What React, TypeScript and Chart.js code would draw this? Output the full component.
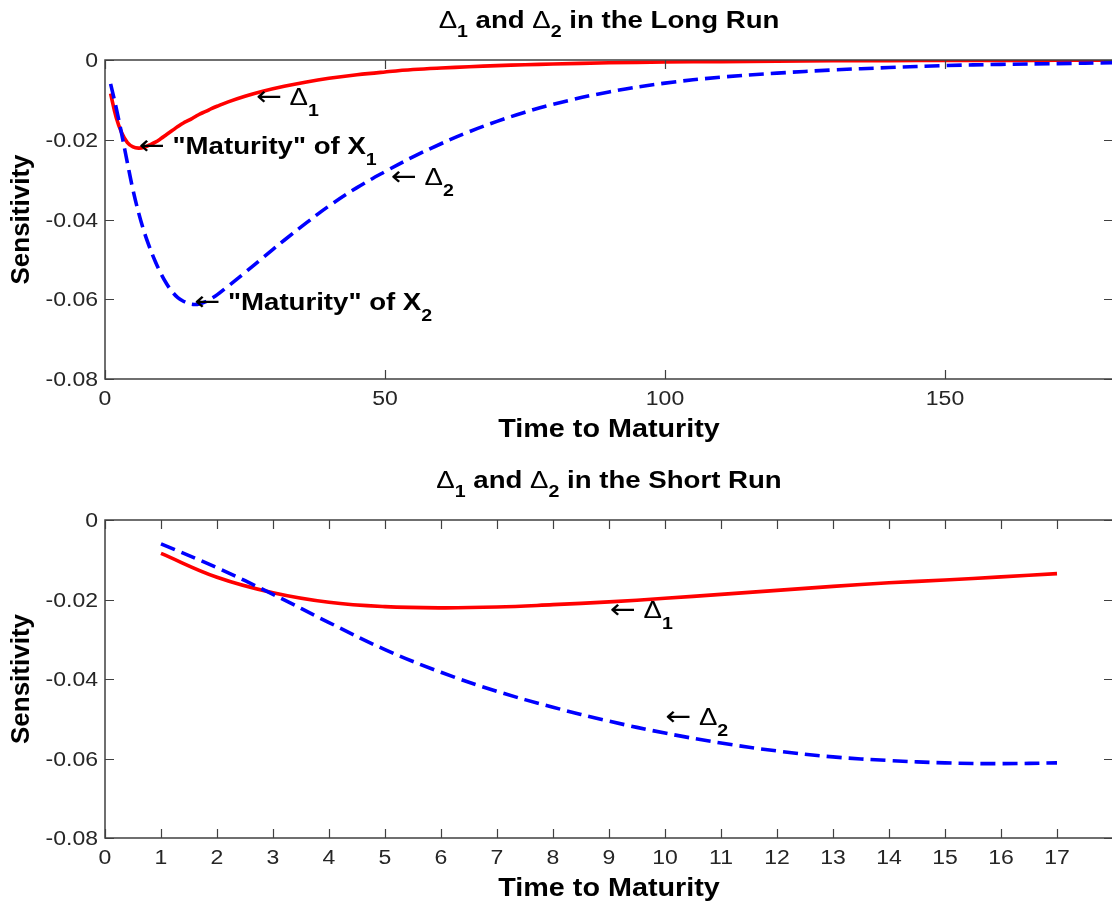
import React, { useEffect, useRef } from 'react';
import { Chart, registerables } from 'chart.js';

Chart.register(...registerables);

// ---------------- data ----------------
const longTimes = [1, 2, 3, 4, 5, 6, 7, 8, 9, 10, 11, 12, 13, 14, 15, 16, 17, 18, 19, 20, 22, 25, 28, 32, 36, 40, 45, 50, 55, 60, 65, 70, 75, 80, 90, 100, 110, 120, 130, 140, 150, 160, 170, 180];
const longDelta1 = [-0.0084, -0.0144, -0.0183, -0.0207, -0.0218, -0.0221, -0.0219, -0.0213, -0.0206, -0.0197, -0.0187, -0.0177, -0.0167, -0.0158, -0.0151, -0.0143, -0.0135, -0.0129, -0.0122, -0.0116, -0.0105, -0.0091, -0.0079, -0.0066, -0.0055, -0.0046, -0.0037, -0.0030, -0.0024, -0.0020, -0.0017, -0.0014, -0.0012, -0.0010, -0.0007, -0.0005, -0.0004, -0.0003, -0.0002, -0.00015, -0.0001, -0.0001, -0.00007, -0.00005];
const longDelta2 = [-0.0060, -0.0120, -0.0187, -0.0258, -0.0326, -0.0383, -0.0431, -0.0471, -0.0506, -0.0536, -0.0561, -0.0581, -0.0596, -0.0605, -0.0611, -0.0613, -0.0611, -0.0606, -0.0598, -0.0589, -0.0567, -0.0533, -0.0498, -0.0452, -0.0408, -0.0366, -0.0320, -0.0280, -0.0243, -0.0210, -0.0180, -0.0154, -0.0131, -0.0111, -0.0080, -0.0058, -0.0043, -0.0033, -0.0025, -0.0019, -0.0014, -0.0011, -0.0009, -0.0007];

const shortTimes = [1, 2, 3, 4, 5, 6, 7, 8, 9, 10, 11, 12, 13, 14, 15, 16, 17];
const shortDelta1 = [-0.0084, -0.0144, -0.0183, -0.0207, -0.0218, -0.0221, -0.0219, -0.0213, -0.0206, -0.0197, -0.0187, -0.0177, -0.0167, -0.0158, -0.0151, -0.0143, -0.0135];
const shortDelta2 = [-0.0060, -0.0120, -0.0187, -0.0258, -0.0326, -0.0383, -0.0431, -0.0471, -0.0506, -0.0536, -0.0561, -0.0581, -0.0596, -0.0605, -0.0611, -0.0613, -0.0611];

const longXTicks = [0, 50, 100, 150];
const shortXTicks = [0, 1, 2, 3, 4, 5, 6, 7, 8, 9, 10, 11, 12, 13, 14, 15, 16, 17];
const yTicks = [0, -0.02, -0.04, -0.06, -0.08];
const yTickLabels = ['0', '-0.02', '-0.04', '-0.06', '-0.08'];

const longRange = [0, 180];
const shortRange = [0, 18];
const yRange = [-0.08, 0];

const xAxisTitle = 'Time to Maturity';
const yAxisTitle = 'Sensitivity';

// ---------------- text helpers ----------------
type Seg = { t: string; size: number; bold?: boolean; dy?: number; family?: string };
const FAMILY = '"Liberation Sans", Arial, Helvetica, sans-serif';
const ARROW_FAMILY = '"DejaVu Sans", sans-serif';
const SX = 1.15;

const big = (t: string, bold = true): Seg => ({ t, size: 24, bold });
const sub = (t: string, dy = 11): Seg => ({ t, size: 17, bold: true, dy });
const arrow: Seg = { t: '←', size: 27, bold: false, family: ARROW_FAMILY };

const longTitle: Seg[] = [big('Δ', false), sub('1', 9), big(' and '), big('Δ', false), sub('2', 9), big(' in the Long Run')];
const shortTitle: Seg[] = [big('Δ', false), sub('1', 9), big(' and '), big('Δ', false), sub('2', 9), big(' in the Short Run')];

const d1Label: Seg[] = [arrow, big(' ', true), big('Δ', false), sub('1')];
const d2Label: Seg[] = [arrow, big(' ', true), big('Δ', false), sub('2')];
const mat1Label: Seg[] = [arrow, big(' "Maturity" of X'), sub('1')];
const mat2Label: Seg[] = [arrow, big(' "Maturity" of X'), sub('2')];

type Ann = { x: number; y: number; segs: Seg[] };
const longAnnotations: Ann[] = [
  { x: 27.3, y: -0.0094, segs: d1Label },
  { x: 6.4, y: -0.0216, segs: mat1Label },
  { x: 51.4, y: -0.0293, segs: d2Label },
  { x: 16.3, y: -0.0607, segs: mat2Label },
];
const shortAnnotations: Ann[] = [
  { x: 9.05, y: -0.0226, segs: d1Label },
  { x: 10.04, y: -0.0495, segs: d2Label },
];

function fontOf(s: Seg) {
  return `${s.bold ? 'bold ' : ''}${s.size}px ${s.family || FAMILY}`;
}

function drawRich(ctx: CanvasRenderingContext2D, x: number, y: number, segs: Seg[], align: 'left' | 'center') {
  let w = 0;
  for (const s of segs) {
    ctx.font = fontOf(s);
    w += ctx.measureText(s.t).width;
  }
  ctx.save();
  ctx.translate(x, y);
  ctx.scale(SX, 1);
  ctx.textBaseline = 'alphabetic';
  ctx.textAlign = 'left';
  ctx.fillStyle = '#000';
  let cx = align === 'center' ? -w / 2 : 0;
  for (const s of segs) {
    ctx.font = fontOf(s);
    ctx.fillText(s.t, cx, s.dy || 0);
    cx += ctx.measureText(s.t).width;
  }
  ctx.restore();
}

function drawPlain(ctx: CanvasRenderingContext2D, text: string, x: number, y: number, font: string, align: CanvasTextAlign, color: string) {
  ctx.save();
  ctx.translate(x, y);
  ctx.scale(SX, 1);
  ctx.font = font;
  ctx.textAlign = align;
  ctx.textBaseline = 'alphabetic';
  ctx.fillStyle = color;
  ctx.fillText(text, 0, 0);
  ctx.restore();
}

type Deco = { title: Seg[]; xTicks: number[]; annotations: Ann[] };

function makeDecoPlugin(deco: Deco) {
  return {
    id: 'matlabDeco',
    afterDraw(chart: any) {
      const { ctx, chartArea: ca, scales } = chart;
      const xs = scales.x;
      const ys = scales.y;
      ctx.save();
      // box
      ctx.strokeStyle = '#404040';
      ctx.lineWidth = 1.5;
      ctx.beginPath();
      ctx.rect(ca.left, ca.top, ca.right - ca.left, ca.bottom - ca.top);
      ctx.stroke();
      // inward ticks
      ctx.lineWidth = 1.2;
      ctx.beginPath();
      for (const v of deco.xTicks) {
        const px = Math.round(xs.getPixelForValue(v)) + 0.5;
        ctx.moveTo(px, ca.bottom);
        ctx.lineTo(px, ca.bottom - 9);
        ctx.moveTo(px, ca.top);
        ctx.lineTo(px, ca.top + 9);
      }
      for (const v of yTicks) {
        const py = Math.round(ys.getPixelForValue(v)) + 0.5;
        ctx.moveTo(ca.left, py);
        ctx.lineTo(ca.left + 9, py);
        ctx.moveTo(ca.right, py);
        ctx.lineTo(ca.right - 9, py);
      }
      ctx.stroke();
      // tick labels
      const tickFont = `20px ${FAMILY}`;
      for (const v of deco.xTicks) {
        const px = xs.getPixelForValue(v);
        drawPlain(ctx, String(v), px, ca.bottom + 26, tickFont, 'center', '#262626');
      }
      yTicks.forEach((v, i) => {
        const py = ys.getPixelForValue(v);
        drawPlain(ctx, yTickLabels[i], ca.left - 7, py + 7, tickFont, 'right', '#262626');
      });
      // titles
      const cx = (ca.left + ca.right) / 2;
      drawRich(ctx, cx, ca.top - 32, deco.title, 'center');
      drawPlain(ctx, xAxisTitle, cx, ca.bottom + 58, `bold 25px ${FAMILY}`, 'center', '#000');
      ctx.save();
      ctx.translate(22, (ca.top + ca.bottom) / 2);
      ctx.rotate(-Math.PI / 2);
      ctx.font = `bold 26px ${FAMILY}`;
      ctx.textAlign = 'center';
      ctx.textBaseline = 'middle';
      ctx.fillStyle = '#000';
      ctx.fillText(yAxisTitle, 0, 0);
      ctx.restore();
      // annotations
      for (const a of deco.annotations) {
        const px = xs.getPixelForValue(a.x);
        const py = ys.getPixelForValue(a.y);
        drawRich(ctx, px - 2, py + 8, a.segs, 'left');
      }
      ctx.restore();
    },
  };
}

function buildConfig(times: number[], d1: number[], d2: number[], xRange: number[], deco: Deco, padTop: number, xAxisHeight: number) {
  return {
    type: 'line' as const,
    data: {
      datasets: [
        {
          label: 'Δ2',
          data: times.map((t, i) => ({ x: t, y: d2[i] })),
          borderColor: '#0000ff',
          borderWidth: 3.6,
          borderDash: [15, 7],
          pointRadius: 0,
          fill: false,
          tension: 0.4,
        },
        {
          label: 'Δ1',
          data: times.map((t, i) => ({ x: t, y: d1[i] })),
          borderColor: '#ff0000',
          borderWidth: 3.6,
          pointRadius: 0,
          fill: false,
          tension: 0.4,
        },
      ],
    },
    options: {
      responsive: false,
      animation: false as const,
      devicePixelRatio: 1,
      layout: { padding: { left: 0, right: 7, top: padTop, bottom: 0 } },
      plugins: { legend: { display: false }, tooltip: { enabled: false }, title: { display: false } },
      scales: {
        x: {
          type: 'linear' as const,
          min: xRange[0],
          max: xRange[1],
          grid: { display: false },
          border: { display: false },
          ticks: { display: false },
          afterFit: (s: any) => { s.height = xAxisHeight; },
        },
        y: {
          type: 'linear' as const,
          min: yRange[0],
          max: yRange[1],
          grid: { display: false },
          border: { display: false },
          ticks: { display: false },
          afterFit: (s: any) => { s.width = 105; },
        },
      },
    },
    plugins: [makeDecoPlugin(deco)],
  };
}

export default function App() {
  const topRef = useRef<HTMLCanvasElement>(null);
  const botRef = useRef<HTMLCanvasElement>(null);

  useEffect(() => {
    const c1 = new Chart(
      topRef.current as HTMLCanvasElement,
      buildConfig(longTimes, longDelta1, longDelta2, longRange, { title: longTitle, xTicks: longXTicks, annotations: longAnnotations }, 60, 450 - 379) as any
    );
    const c2 = new Chart(
      botRef.current as HTMLCanvasElement,
      buildConfig(shortTimes, shortDelta1, shortDelta2, shortRange, { title: shortTitle, xTicks: shortXTicks, annotations: shortAnnotations }, 70, 454 - 388) as any
    );
    return () => {
      c1.destroy();
      c2.destroy();
    };
  }, []);

  return (
    <div style={{ position: 'absolute', left: 0, top: 0, width: 1112, height: 904, overflow: 'hidden', background: '#fff' }}>
      <canvas ref={topRef} width={1120} height={450} style={{ position: 'absolute', left: 0, top: 0, width: 1120, height: 450 }} />
      <canvas ref={botRef} width={1120} height={454} style={{ position: 'absolute', left: 0, top: 450, width: 1120, height: 454 }} />
    </div>
  );
}
